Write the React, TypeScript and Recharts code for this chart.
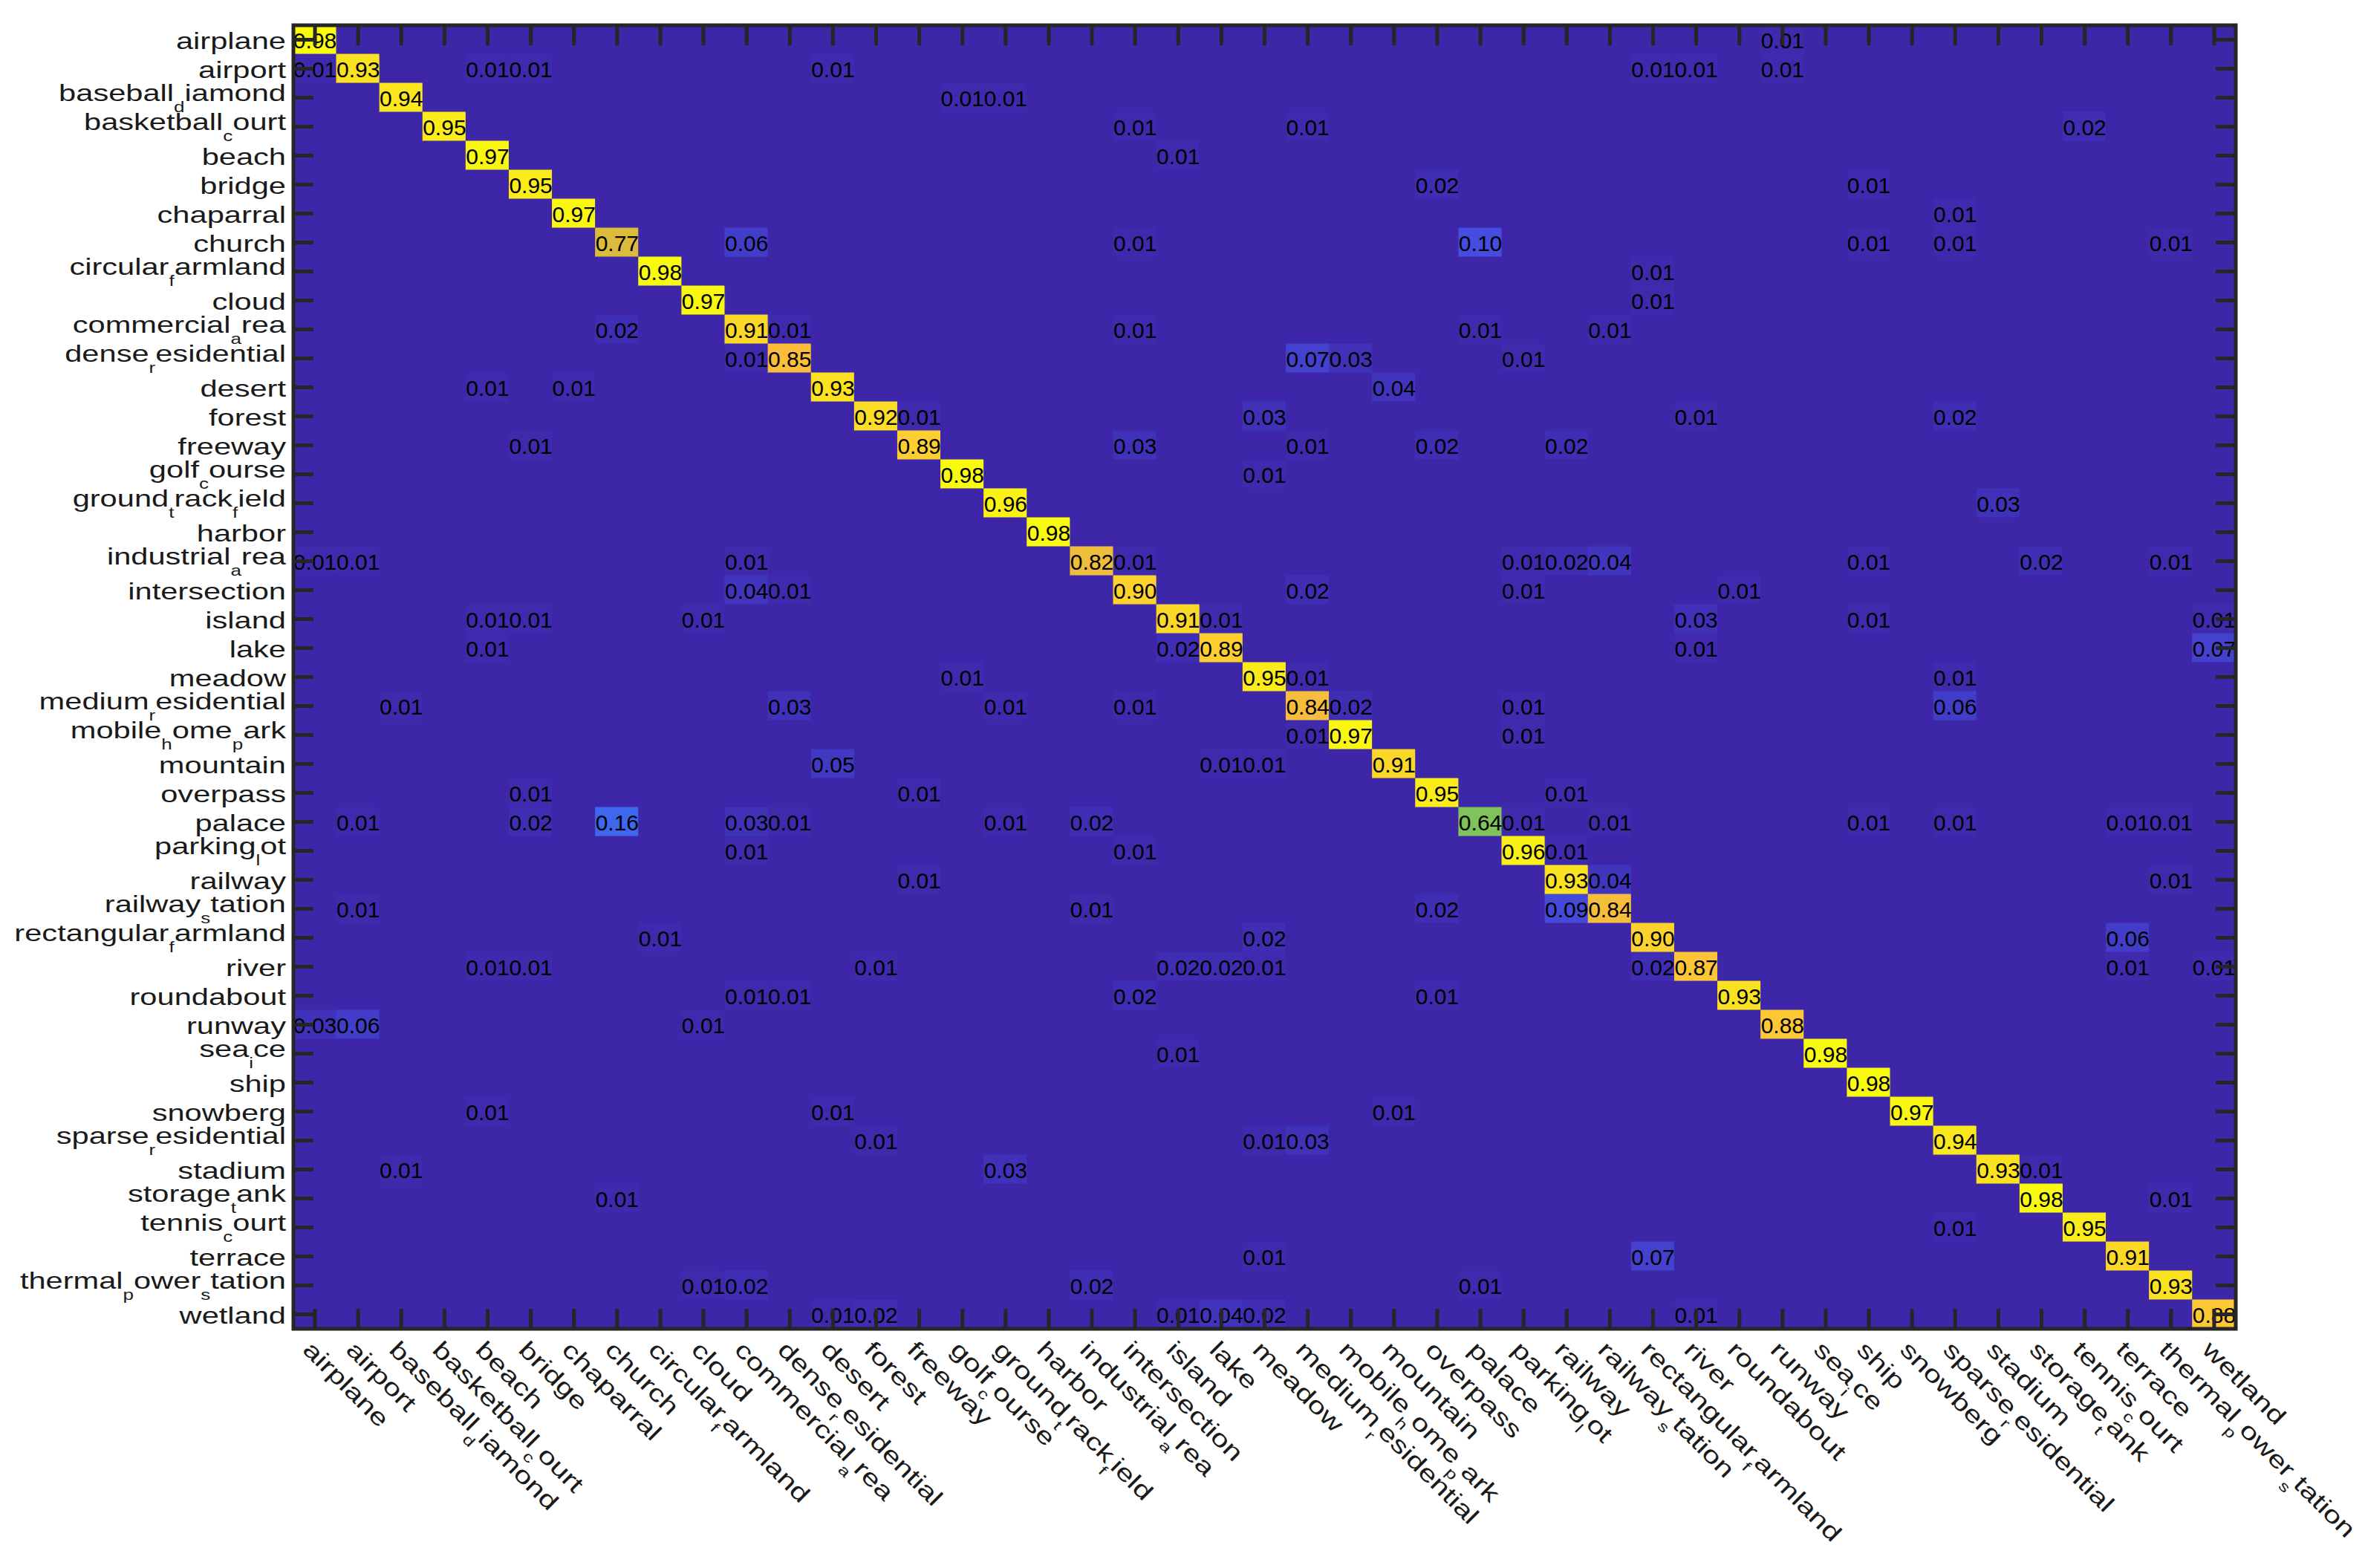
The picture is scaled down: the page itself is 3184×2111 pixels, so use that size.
import React from 'react'
import { BarChart, Bar, Cell, XAxis, YAxis, LabelList } from 'recharts'

// class names, in matrix order (rows = true class, columns = predicted class)
const classes = [
  'airplane', 'airport', 'baseball_diamond', 'basketball_court', 'beach', 'bridge',
  'chaparral', 'church', 'circular_farmland', 'cloud', 'commercial_area',
  'dense_residential', 'desert', 'forest', 'freeway', 'golf_course',
  'ground_track_field', 'harbor', 'industrial_area', 'intersection', 'island', 'lake',
  'meadow', 'medium_residential', 'mobile_home_park', 'mountain', 'overpass', 'palace',
  'parking_lot', 'railway', 'railway_station', 'rectangular_farmland', 'river',
  'roundabout', 'runway', 'sea_ice', 'ship', 'snowberg', 'sparse_residential',
  'stadium', 'storage_tank', 'tennis_court', 'terrace', 'thermal_power_station', 'wetland',
]

// per-class accuracy (diagonal)
const diagonal = [
  0.98, 0.93, 0.94, 0.95, 0.97, 0.95, 0.97, 0.77, 0.98, 0.97, 0.91, 0.85, 0.93, 0.92, 0.89,
  0.98, 0.96, 0.98, 0.82, 0.90, 0.91, 0.89, 0.95, 0.84, 0.97, 0.91, 0.95, 0.64, 0.96, 0.93,
  0.84, 0.90, 0.87, 0.93, 0.88, 0.98, 0.98, 0.97, 0.94, 0.93, 0.98, 0.95, 0.91, 0.93, 0.88,
]

// off-diagonal confusions: [true row, predicted col, value]
const confusions: [number, number, number][] = [
  [0, 34, 0.01],
  [1, 0, 0.01], [1, 4, 0.01], [1, 5, 0.01], [1, 12, 0.01], [1, 31, 0.01], [1, 32, 0.01], [1, 34, 0.01],
  [2, 15, 0.01], [2, 16, 0.01],
  [3, 19, 0.01], [3, 23, 0.01], [3, 41, 0.02],
  [4, 20, 0.01],
  [5, 26, 0.02], [5, 36, 0.01],
  [6, 38, 0.01],
  [7, 10, 0.06], [7, 19, 0.01], [7, 27, 0.10], [7, 36, 0.01], [7, 38, 0.01], [7, 43, 0.01],
  [8, 31, 0.01],
  [9, 31, 0.01],
  [10, 7, 0.02], [10, 11, 0.01], [10, 19, 0.01], [10, 27, 0.01], [10, 30, 0.01],
  [11, 10, 0.01], [11, 23, 0.07], [11, 24, 0.03], [11, 28, 0.01],
  [12, 4, 0.01], [12, 6, 0.01], [12, 25, 0.04],
  [13, 14, 0.01], [13, 22, 0.03], [13, 32, 0.01], [13, 38, 0.02],
  [14, 5, 0.01], [14, 19, 0.03], [14, 23, 0.01], [14, 26, 0.02], [14, 29, 0.02],
  [15, 22, 0.01],
  [16, 39, 0.03],
  [18, 0, 0.01], [18, 1, 0.01], [18, 10, 0.01], [18, 19, 0.01], [18, 28, 0.01], [18, 29, 0.02],
  [18, 30, 0.04], [18, 36, 0.01], [18, 40, 0.02], [18, 43, 0.01],
  [19, 10, 0.04], [19, 11, 0.01], [19, 23, 0.02], [19, 28, 0.01], [19, 33, 0.01],
  [20, 4, 0.01], [20, 5, 0.01], [20, 9, 0.01], [20, 21, 0.01], [20, 32, 0.03], [20, 36, 0.01], [20, 44, 0.01],
  [21, 4, 0.01], [21, 20, 0.02], [21, 32, 0.01], [21, 44, 0.07],
  [22, 15, 0.01], [22, 23, 0.01], [22, 38, 0.01],
  [23, 2, 0.01], [23, 11, 0.03], [23, 16, 0.01], [23, 19, 0.01], [23, 24, 0.02], [23, 28, 0.01], [23, 38, 0.06],
  [24, 23, 0.01], [24, 28, 0.01],
  [25, 12, 0.05], [25, 21, 0.01], [25, 22, 0.01],
  [26, 5, 0.01], [26, 14, 0.01], [26, 29, 0.01],
  [27, 1, 0.01], [27, 5, 0.02], [27, 7, 0.16], [27, 10, 0.03], [27, 11, 0.01], [27, 16, 0.01],
  [27, 18, 0.02], [27, 28, 0.01], [27, 30, 0.01], [27, 36, 0.01], [27, 38, 0.01], [27, 42, 0.01], [27, 43, 0.01],
  [28, 10, 0.01], [28, 19, 0.01], [28, 29, 0.01],
  [29, 14, 0.01], [29, 30, 0.04], [29, 43, 0.01],
  [30, 1, 0.01], [30, 18, 0.01], [30, 26, 0.02], [30, 29, 0.09],
  [31, 8, 0.01], [31, 22, 0.02], [31, 42, 0.06],
  [32, 4, 0.01], [32, 5, 0.01], [32, 13, 0.01], [32, 20, 0.02], [32, 21, 0.02], [32, 22, 0.01],
  [32, 31, 0.02], [32, 42, 0.01], [32, 44, 0.01],
  [33, 10, 0.01], [33, 11, 0.01], [33, 19, 0.02], [33, 26, 0.01],
  [34, 0, 0.03], [34, 1, 0.06], [34, 9, 0.01],
  [35, 20, 0.01],
  [37, 4, 0.01], [37, 12, 0.01], [37, 25, 0.01],
  [38, 13, 0.01], [38, 22, 0.01], [38, 23, 0.03],
  [39, 2, 0.01], [39, 16, 0.03], [39, 40, 0.01],
  [40, 7, 0.01], [40, 43, 0.01],
  [41, 38, 0.01],
  [42, 22, 0.01], [42, 31, 0.07],
  [43, 9, 0.01], [43, 10, 0.02], [43, 18, 0.02], [43, 27, 0.01],
  [44, 12, 0.01], [44, 13, 0.02], [44, 20, 0.01], [44, 21, 0.04], [44, 22, 0.02], [44, 32, 0.01],
]

const matrix = classes.map((_, r) => classes.map((_, c) => (r === c ? diagonal[r] : 0)))
confusions.forEach(([r, c, v]) => { matrix[r][c] = v })
const maxValue = Math.max(...matrix.flat())

// one row per true class; every cell is one unit wide in the stack
const rows = classes.map((name, r) => {
  const row: Record<string, any> = { name }
  classes.forEach((_, c) => {
    row[`c${c}`] = 1
    row[`v${c}`] = matrix[r][c]
  })
  return row
})
const xTicks = classes.map((_, i) => i + 0.5)

// layout
const W = 3184
const H = 2111
const PLOT_LEFT = 395
const PLOT_TOP = 34
const PLOT_RIGHT = 3010
const PLOT_BOTTOM = 1789
const TICK_LEN = 27
const AXIS = '#262626'
const FONT = '"Liberation Sans", Arial, Helvetica, sans-serif'

// parula-like colormap
const stops: [number, number, number, number][] = [
  [0, 62, 38, 168],
  [0.125, 71, 85, 235],
  [0.25, 40, 140, 245],
  [0.375, 14, 177, 214],
  [0.5, 45, 186, 160],
  [0.625, 105, 197, 100],
  [0.75, 205, 186, 58],
  [0.875, 253, 190, 60],
  [1, 249, 251, 14],
]
function parula(v: number) {
  const t = Math.max(0, Math.min(1, v / maxValue))
  for (let i = 1; i < stops.length; i++) {
    if (t <= stops[i][0]) {
      const a = stops[i - 1], b = stops[i]
      const f = (t - a[0]) / (b[0] - a[0])
      const ch = (k: number) => Math.round(a[k] + (b[k] - a[k]) * f)
      return `rgb(${ch(1)},${ch(2)},${ch(3)})`
    }
  }
  return 'rgb(249,251,14)'
}

// mimic the "a_b" subscript rendering of the original labels
function labelSpans(name: string) {
  const parts = name.split('_')
  const out: React.ReactNode[] = [<tspan key="p0">{parts[0]}</tspan>]
  parts.slice(1).forEach((p, i) => {
    out.push(<tspan key={`s${i}`} dy={15} fontSize={20}>{p[0]}</tspan>)
    out.push(<tspan key={`r${i}`} dy={-15} fontSize={32}>{p.slice(1)}</tspan>)
  })
  return out
}

const YTick = (props: any) => {
  const { x, y, payload } = props
  const name: string = payload.value
  const shift = name.includes('_') ? 4 : 12
  return (
    <g>
      <line x1={PLOT_LEFT} y1={y} x2={PLOT_LEFT + TICK_LEN} y2={y} stroke={AXIS} strokeWidth={5} />
      <line x1={PLOT_RIGHT - TICK_LEN} y1={y} x2={PLOT_RIGHT} y2={y} stroke={AXIS} strokeWidth={5} />
      <text
        transform={`translate(${x - 10},${y + shift}) scale(1.3,1)`}
        textAnchor="end"
        fontSize={32}
        fontFamily={FONT}
        fill="#1a1a1a"
      >
        {labelSpans(name)}
      </text>
    </g>
  )
}

const XTick = (props: any) => {
  const { x, y, payload, index } = props
  const name = classes[Math.floor(payload.value)]
  return (
    <g>
      {index === 0 && (
        <rect
          x={PLOT_LEFT}
          y={PLOT_TOP}
          width={PLOT_RIGHT - PLOT_LEFT}
          height={PLOT_BOTTOM - PLOT_TOP}
          fill="none"
          stroke={AXIS}
          strokeWidth={5}
        />
      )}
      <line x1={x} y1={PLOT_BOTTOM} x2={x} y2={PLOT_BOTTOM - TICK_LEN} stroke={AXIS} strokeWidth={5} />
      <line x1={x} y1={PLOT_TOP} x2={x} y2={PLOT_TOP + TICK_LEN} stroke={AXIS} strokeWidth={5} />
      <text
        transform={`translate(${x - 18},${y + 30}) rotate(45) scale(1.3,1)`}
        textAnchor="start"
        fontSize={32}
        fontFamily={FONT}
        fill="#1a1a1a"
      >
        {labelSpans(name)}
      </text>
    </g>
  )
}

const cellLabel = (p: any) => {
  const v = Number(p.value)
  if (!(v >= 0.005)) return null
  return (
    <text
      x={p.x + p.width / 2}
      y={p.y + p.height / 2 + 11}
      textAnchor="middle"
      fontSize={30}
      fontFamily={FONT}
      fill="#000"
    >
      {v.toFixed(2)}
    </text>
  )
}

export default function App() {
  return (
    <div style={{ position: 'absolute', left: 0, top: 0, width: W, height: H, background: '#fff' }}>
      <BarChart
        layout="vertical"
        width={W}
        height={H}
        data={rows}
        margin={{ top: PLOT_TOP, right: W - PLOT_RIGHT, bottom: 0, left: 0 }}
        barCategoryGap={0}
        barGap={0}
      >
        {classes.map((c, ci) => (
          <Bar key={c} dataKey={`c${ci}`} stackId="m" isAnimationActive={false}>
            {rows.map((_, ri) => {
              const color = parula(matrix[ri][ci])
              return <Cell key={ri} fill={color} stroke={color} strokeWidth={1.2} />
            })}
            <LabelList dataKey={`v${ci}`} content={cellLabel} />
          </Bar>
        ))}
        <XAxis
          type="number"
          domain={[0, classes.length]}
          ticks={xTicks}
          interval={0}
          height={H - PLOT_BOTTOM}
          tickSize={0}
          tickMargin={0}
          axisLine={false}
          tick={<XTick />}
        />
        <YAxis
          type="category"
          dataKey="name"
          width={PLOT_LEFT}
          interval={0}
          tickSize={0}
          tickMargin={0}
          axisLine={false}
          tick={<YTick />}
        />
      </BarChart>
    </div>
  )
}
